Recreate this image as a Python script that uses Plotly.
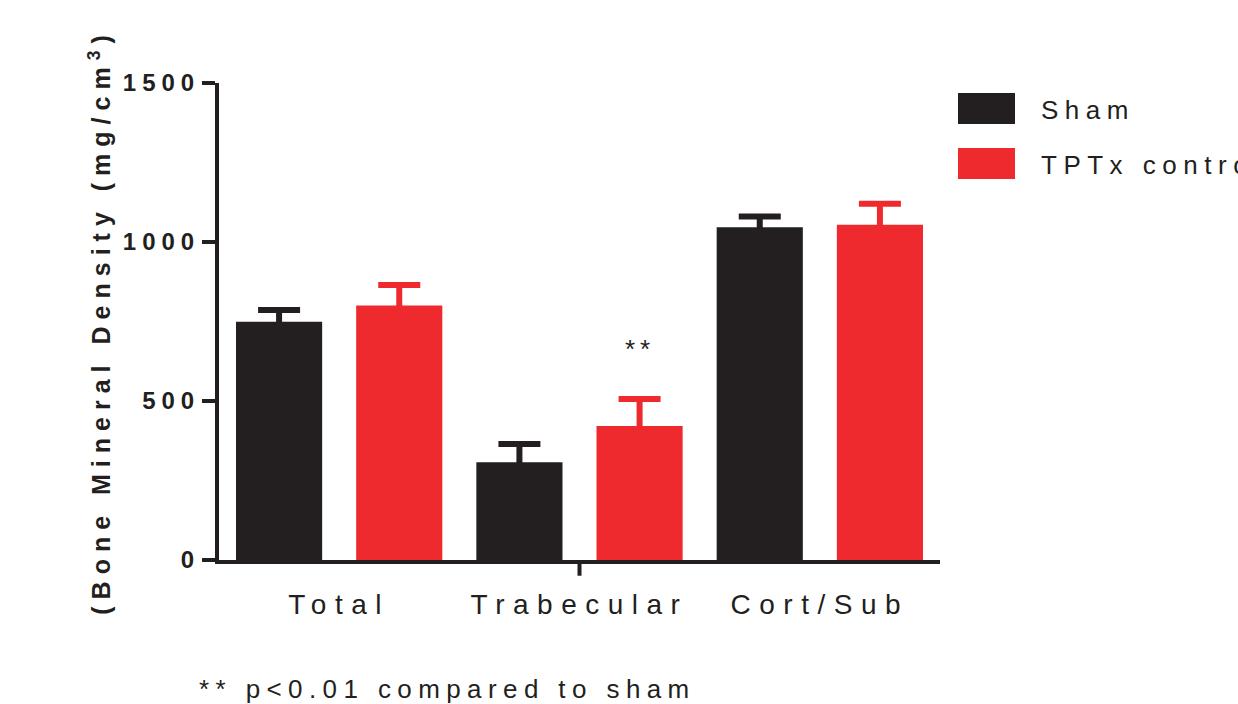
import plotly.graph_objects as go

categories = ["Total", "Trabecular", "Cort/Sub"]
sham_values = [749, 307, 1046]
sham_errors = [37, 58, 34]
tptx_values = [800, 421, 1054]
tptx_errors = [65, 85, 66]
series_names = ["Sham", "TPTx control"]
y_ticks = [0, 500, 1000, 1500]

BLACK = "#231f20"
RED = "#ee2a2e"
FONT = "Liberation Sans, Arial, sans-serif"


def spaced(text, px):
    return f'<span style="letter-spacing:{px}px">{text}</span>'


fig = go.Figure()
for name, vals, errs, col in [
    (series_names[0], sham_values, sham_errors, BLACK),
    (series_names[1], tptx_values, tptx_errors, RED),
]:
    fig.add_trace(go.Bar(
        x=categories, y=vals, name=name, marker=dict(color=col, line=dict(width=0)),
        error_y=dict(type="data", symmetric=True, array=errs,
                     color=col, thickness=6, width=21),
        showlegend=False,
    ))

W, H = 1238, 704
L, R, T, B = 219, 298, 83, 144

fig.update_layout(
    width=W, height=H,
    margin=dict(l=L, r=R, t=T, b=B, pad=0),
    paper_bgcolor="white", plot_bgcolor="white",
    barmode="group", bargap=0.0, bargroupgap=0.283,
    font=dict(family=FONT, color=BLACK),
    xaxis=dict(
        type="category", range=[-0.5, 2.5], showline=True, linecolor=BLACK,
        linewidth=4, ticks="", showgrid=False, zeroline=False,
        tickmode="array", tickvals=categories,
        ticktext=[spaced(c, 8.5) for c in categories],
        tickfont=dict(size=28, family=FONT, color=BLACK),
        ticklabelstandoff=16,
    ),
    yaxis=dict(
        range=[0, 1500], showline=True, linecolor=BLACK,
        linewidth=4, ticks="outside", ticklen=13, tickwidth=4, tickcolor=BLACK,
        showgrid=False, zeroline=False,
        tickmode="array", tickvals=y_ticks,
        ticktext=[spaced(str(v), 6) for v in y_ticks],
        tickfont=dict(size=24, family=FONT, color=BLACK, weight="bold"),
        ticklabelstandoff=-3,
        title=dict(text=spaced("(Bone Mineral Density (mg/cm<sup>3</sup>)", 7),
                   font=dict(size=25, family=FONT, color=BLACK, weight="bold"),
                   standoff=6),
    ),
)

# single centre tick on x axis
fig.add_shape(type="line", xref="x", yref="paper", x0=1, x1=1, y0=0, y1=-0.033,
              line=dict(color=BLACK, width=4))

# significance mark
fig.add_annotation(x=1.25, y=665, xref="x", yref="y", text=spaced("**", 5),
                   showarrow=False, font=dict(size=26, family=FONT, color=BLACK))


def px_x(px):
    return (px - L) / (W - L - R)


def px_y(py):
    return (H - B - py) / (H - T - B)


# custom legend
legend_rows = [(series_names[0], BLACK, 93, 124), (series_names[1], RED, 148, 179)]
for name, col, top, bot in legend_rows:
    fig.add_shape(type="rect", xref="paper", yref="paper",
                  x0=px_x(958), x1=px_x(1015), y0=px_y(bot), y1=px_y(top),
                  fillcolor=col, line=dict(width=0))
    fig.add_annotation(xref="paper", yref="paper", x=px_x(1039), y=px_y((top + bot) / 2 + 1),
                       xanchor="left", yanchor="middle", text=spaced(name, 6.5),
                       showarrow=False, font=dict(size=26, family=FONT, color=BLACK))

# footnote
fig.add_annotation(xref="paper", yref="paper", x=px_x(197), y=px_y(689),
                   xanchor="left", yanchor="middle",
                   text=spaced("** p<0.01 compared to sham", 6.4),
                   showarrow=False, font=dict(size=26, family=FONT, color=BLACK))

fig.write_html("out.html")
